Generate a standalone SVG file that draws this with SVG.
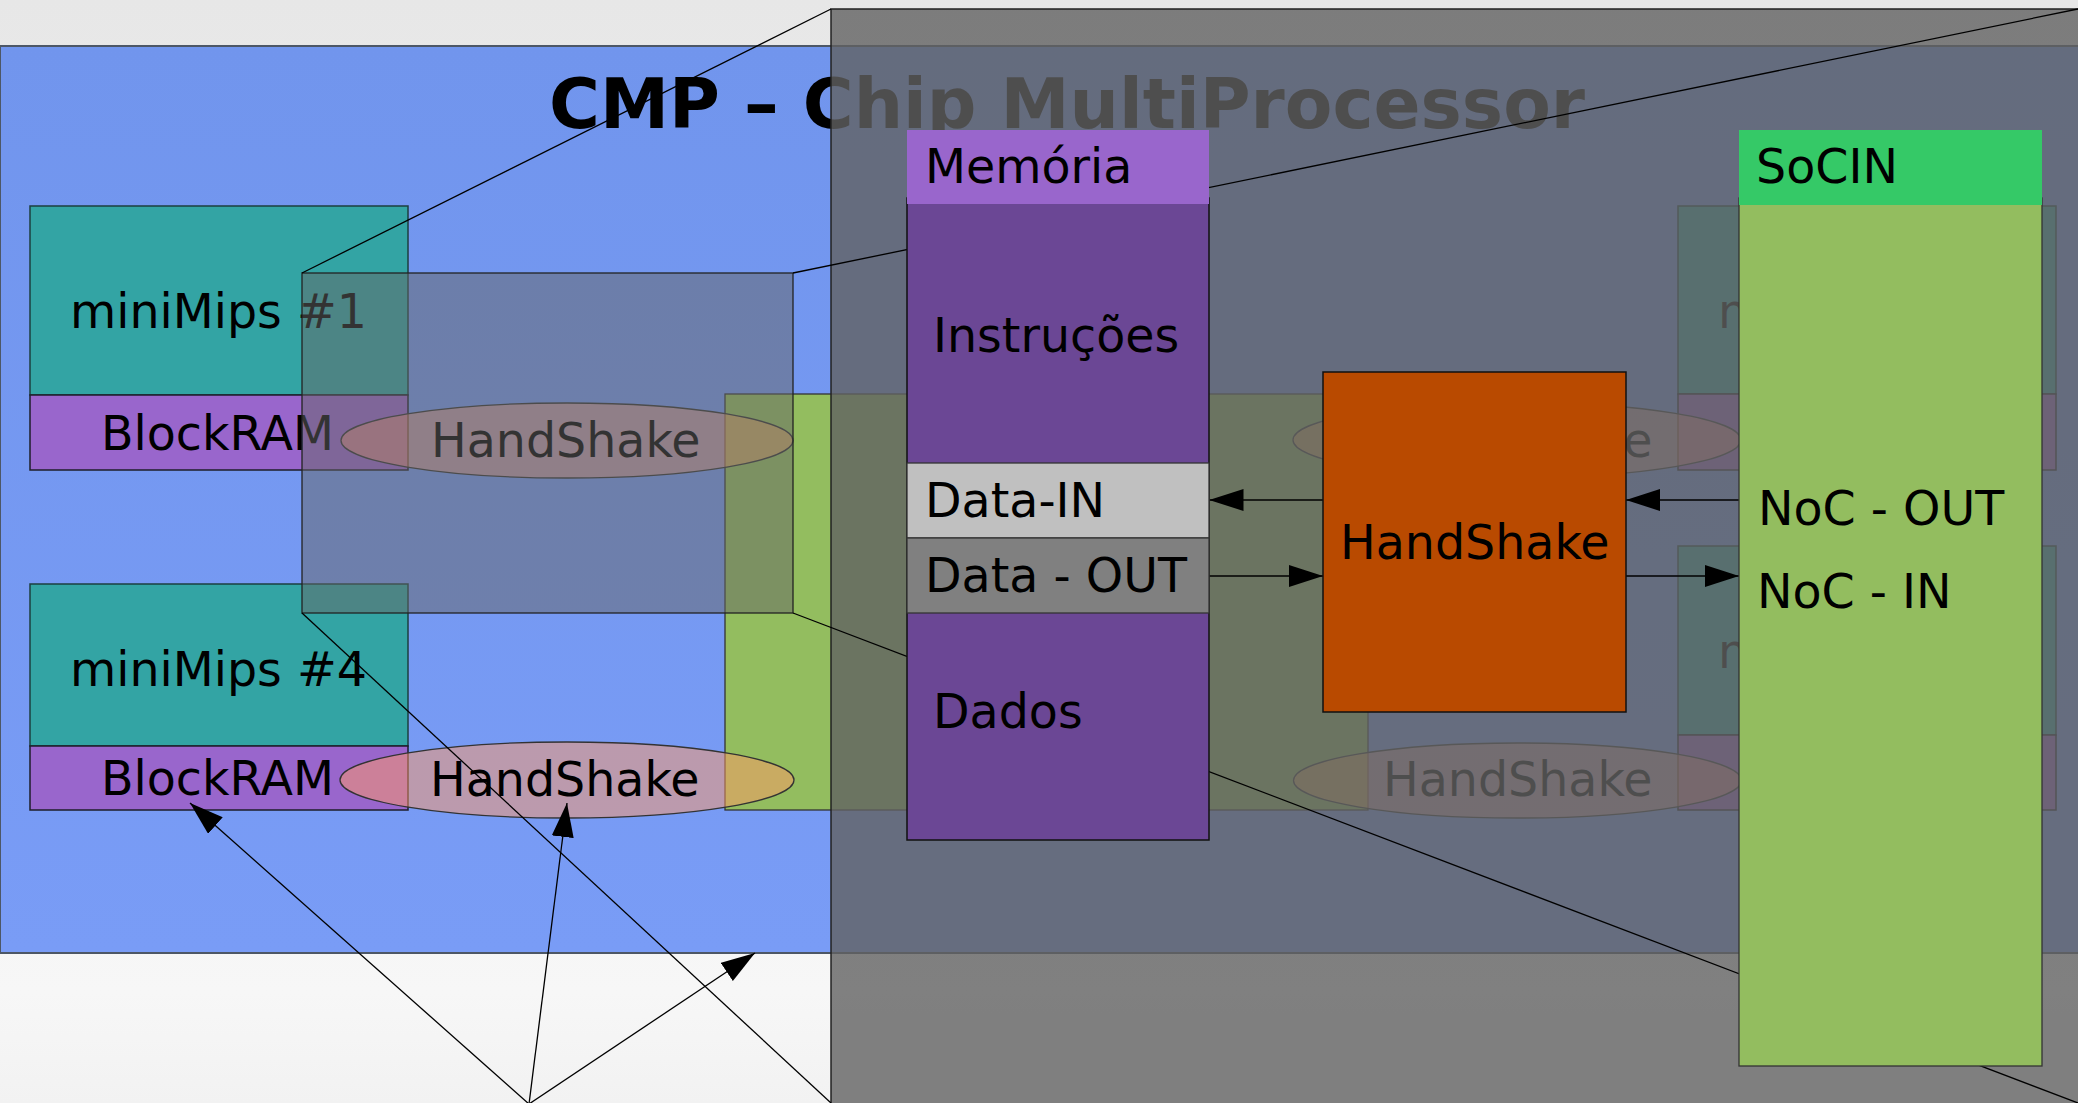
<svg xmlns="http://www.w3.org/2000/svg" width="2078" height="1103" viewBox="0 0 2078 1103">
<defs>
<linearGradient id="bg" x1="0" y1="0" x2="0" y2="1">
<stop offset="0" stop-color="#e7e7e7"/>
<stop offset="0.9" stop-color="#f7f7f7"/>
<stop offset="1" stop-color="#f2f2f2"/>
</linearGradient>
<linearGradient id="blue" x1="0" y1="0" x2="0" y2="1">
<stop offset="0" stop-color="#7195ed"/>
<stop offset="1" stop-color="#799cf6"/>
</linearGradient>
<marker id="ah" markerUnits="userSpaceOnUse" markerWidth="34" markerHeight="22" refX="34" refY="11" orient="auto">
<path d="M0,0 L34,11 L0,22 z" fill="#000"/>
</marker>
<style>
text{font-family:"DejaVu Sans","Liberation Sans",sans-serif;font-size:47.5px;fill:#000}
.title{font-size:70px;font-weight:bold}
.teal{fill:#33a4a4;stroke:#1d3f3f;stroke-width:1.5}
.bram{fill:#9966cc;stroke:#1e1e2a;stroke-width:1.5}
.hs{fill:#ff9966;fill-opacity:.5;stroke:#333;stroke-width:1.3}
.green{fill:#93bd5f;stroke:#333;stroke-width:1.3}
.ln{stroke:#000;stroke-width:1.3;fill:none}
.ar{stroke:#000;stroke-width:1.3;fill:none;marker-end:url(#ah)}
.dk{fill:#6b4795;stroke:#111;stroke-width:1.5}
.bx{stroke:#333;stroke-width:1.3}
</style>
</defs>
<rect x="0" y="0" width="2078" height="1103" fill="url(#bg)"/>
<g id="cmp-panel">
<rect x="0" y="46" width="2090" height="907" fill="url(#blue)" stroke="#4d5766" stroke-width="2"/>
<text class="title" x="549" y="128" textLength="1036" lengthAdjust="spacingAndGlyphs">CMP – Chip MultiProcessor</text>
</g>
<g id="minimips1">
<rect class="teal" x="30" y="206" width="378" height="189"/>
<rect class="bram" x="30" y="395" width="378" height="75"/>
<text x="70" y="328">miniMips #1</text>
<text x="101" y="450">BlockRAM</text>
</g>
<g id="minimips4">
<rect class="teal" x="30" y="584" width="378" height="162"/>
<rect class="bram" x="30" y="746" width="378" height="64"/>
<text x="70" y="686">miniMips #4</text>
<text x="101" y="795">BlockRAM</text>
</g>
<g id="noc-bg">
<rect class="green" x="725" y="394" width="643" height="416"/>
</g>
<g id="minimips-right-top">
<rect class="teal" x="1678" y="206" width="378" height="188"/>
<rect class="bram" x="1678" y="394" width="378" height="76"/>
<text x="1718" y="328">m</text>
</g>
<g id="minimips-right-bottom">
<rect class="teal" x="1678" y="546" width="378" height="189"/>
<rect class="bram" x="1678" y="735" width="378" height="75"/>
<text x="1718" y="668">m</text>
</g>
<g id="handshake-1">
<ellipse class="hs" cx="567" cy="440.5" rx="226" ry="37.5"/>
<text x="431" y="457">HandShake</text>
</g>
<g id="handshake-4">
<ellipse class="hs" cx="567" cy="780" rx="227" ry="38"/>
<text x="430" y="796">HandShake</text>
</g>
<g id="handshake-2">
<ellipse class="hs" cx="1517" cy="440" rx="224" ry="37.5"/>
<text x="1383" y="457">HandShake</text>
</g>
<g id="handshake-3">
<ellipse class="hs" cx="1517.5" cy="780.5" rx="224" ry="37.5"/>
<text x="1383" y="796">HandShake</text>
</g>
<g id="zoom-source">
<rect x="302" y="273" width="491" height="340" fill="#666" fill-opacity=".5" stroke="#222" stroke-width="1.3"/>
</g>
<g id="zoom-overlay">
<rect x="831" y="9" width="1260" height="1110" fill="#626262" fill-opacity=".8" stroke="#222" stroke-width="1.5"/>
</g>
<g id="connectors">
<line class="ln" x1="831" y1="9" x2="302" y2="273"/>
<line class="ln" x1="793" y1="273" x2="2078" y2="9"/>
<line class="ln" x1="302" y1="613" x2="831" y2="1103"/>
<line class="ln" x1="793" y1="613" x2="2078" y2="1103"/>
<line class="ar" x1="1323" y1="500" x2="1209.5" y2="500"/>
<line class="ar" x1="1209" y1="576" x2="1323" y2="576"/>
<line class="ar" x1="1739" y1="500" x2="1626" y2="500"/>
<line class="ar" x1="1626" y1="576" x2="1739" y2="576"/>
<line class="ar" x1="529" y1="1104" x2="190" y2="803"/>
<line class="ar" x1="529" y1="1104" x2="567" y2="803"/>
<line class="ar" x1="529" y1="1104" x2="755" y2="953"/>
</g>
<g id="memoria">
<rect class="dk" x="907" y="198" width="302" height="642"/>
<rect x="907" y="130" width="302" height="74" fill="#9966cc"/>
<rect class="bx" x="907" y="463" width="302" height="75" fill="#c0c0c0"/>
<rect class="bx" x="907" y="538" width="302" height="75" fill="#808080"/>
<text x="925" y="183">Memória</text>
<text x="933" y="352">Instruções</text>
<text x="925" y="517">Data-IN</text>
<text x="925" y="592">Data - OUT</text>
<text x="933" y="728">Dados</text>
</g>
<g id="handshake-main">
<rect x="1323" y="372" width="303" height="340" fill="#b94a00" stroke="#111" stroke-width="1.5"/>
<text x="1340" y="559">HandShake</text>
</g>
<g id="socin">
<rect class="green" x="1739" y="198" width="303" height="868" stroke="#111" stroke-width="1.5"/>
<rect x="1739" y="130" width="303" height="75" fill="#35c967"/>
<text x="1756" y="183">SoCIN</text>
<text x="1758" y="525">NoC - OUT</text>
<text x="1757" y="608">NoC - IN</text>
</g>
</svg>
